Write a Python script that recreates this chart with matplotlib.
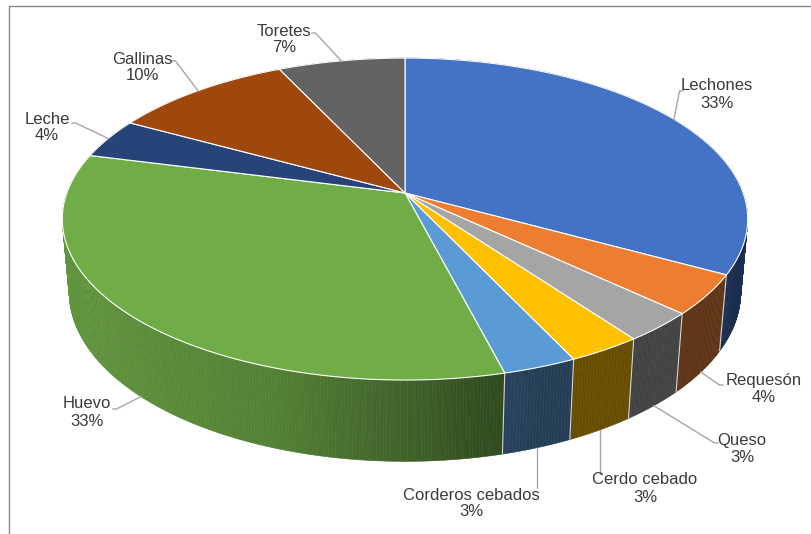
import numpy as np
import matplotlib
matplotlib.use('Agg')
import matplotlib.pyplot as plt
from matplotlib.patches import Polygon
from matplotlib.colors import to_rgb

# ---------------- data ----------------
categories = ['Lechones', 'Requesón', 'Queso', 'Cerdo cebado', 'Corderos cebados',
              'Huevo', 'Leche', 'Gallinas', 'Toretes']
values = [33, 4, 3, 3, 3, 33, 4, 10, 7]
colors = ['#4472C4', '#ED7D31', '#A5A5A5', '#FFC000', '#5B9BD5',
          '#70AD47', '#264478', '#9E480E', '#636363']

# ---------------- layout ----------------
label_pos = [(717, 86), (764, 381), (742, 440), (645, 480), (471, 495),
             (87, 404), (47, 119), (142, 59), (284, 31)]
leader_start = [(683, 91), (723, 385), (718, 443), (None, 474), (None, 488),
                (113, 409), (72, 123), (172, 61), (312, 33)]

# 3D camera parameters (pixel space)
cx, cy = 405.0, 193.0
sphi, cphi = 0.457, 0.8895
D = 5.50
fx, fy = 1860.0, 1887.0
thick = 0.241


def proj(theta_deg, H):
    th = np.radians(theta_deg)
    X = np.sin(th)
    Yd = np.cos(th)
    yc = Yd * sphi + H * cphi
    zc = D + Yd * cphi - H * sphi
    return cx + fx * X / zc, cy - fy * yc / zc, zc


def shade(theta):
    th = theta % 360
    return np.interp(th, [0, 160, 166, 172, 178, 200, 230, 260, 360],
                     [0.39, 0.40, 0.43, 0.48, 0.55, 0.75, 0.83, 0.87, 0.87])


fig = plt.figure(figsize=(8.12, 5.34), dpi=100)
ax = fig.add_axes([0, 0, 1, 1])
ax.set_xlim(0, 812)
ax.set_ylim(534, 0)
ax.axis('off')

total = float(sum(values))
bounds = np.concatenate([[0], np.cumsum(values)]) / total * 360.0

# ---- side walls (painter's order) ----
quads = []
for i, (a0, a1) in enumerate(zip(bounds[:-1], bounds[1:])):
    n = max(int((a1 - a0) / 0.5), 2)
    ts = np.linspace(a0, a1, n + 1)
    base = np.array(to_rgb(colors[i]))
    for t0, t1 in zip(ts[:-1], ts[1:]):
        u0, v0, z0 = proj(t0, 0)
        u1, v1, z1 = proj(t1, 0)
        u2, v2, _ = proj(t1, -thick)
        u3, v3, _ = proj(t0, -thick)
        col = np.clip(base * shade((t0 + t1) / 2), 0, 1)
        quads.append(((z0 + z1) / 2, [(u0, v0), (u1, v1), (u2, v2), (u3, v3)], col))
quads.sort(key=lambda q: -q[0])
for _, pts, col in quads:
    ax.add_patch(Polygon(pts, closed=True, facecolor=col, edgecolor=col, lw=0.4))

# boundaries on the visible side
for b in bounds:
    if 92 < (b % 360) < 268:
        u0, v0, _ = proj(b, 0)
        u1, v1, _ = proj(b, -thick)
        ax.plot([u0, u1], [v0, v1], color='#d6d6d6', lw=0.8, solid_capstyle='butt')

# ---- top faces ----
for i, (a0, a1) in enumerate(zip(bounds[:-1], bounds[1:])):
    ts = np.linspace(a0, a1, max(int((a1 - a0) / 0.5), 2) + 1)
    us, vs, _ = proj(ts, 0)
    pts = [(cx, cy)] + list(zip(us, vs))
    ax.add_patch(Polygon(pts, closed=True, facecolor=colors[i],
                         edgecolor='white', lw=0.8, joinstyle='round'))

# ---- labels and leader lines ----
txtcol = '#3a3a3a'
for i, name in enumerate(categories):
    mid = (bounds[i] + bounds[i + 1]) / 2
    if 90 < mid < 270:
        ex, ey, _ = proj(mid, -thick)
    else:
        ex, ey, _ = proj(mid, 0)
    sx, sy = leader_start[i]
    if sx is None:
        xs, ys = [ex, ex], [sy, ey]
    else:
        stub = 3.5 if ex > sx else -3.5
        xs, ys = [sx, sx + stub, ex], [sy, sy, ey]
    ax.plot(xs, ys, color='#a6a6a6', lw=1.0)
    tx, ty = label_pos[i]
    pct = f"{values[i] / total:.0%}"
    ax.text(tx, ty, name, ha='center', va='center', fontsize=12,
            family='Liberation Sans', color=txtcol)
    ax.text(tx, ty + 17, pct, ha='center', va='center', fontsize=12,
            family='Liberation Sans', color=txtcol)

# chart frame
ax.plot([9, 9, 812], [534, 6, 6], color='#8a8a8a', lw=1.0, solid_joinstyle='miter')

fig.savefig('out.png', dpi=100)
